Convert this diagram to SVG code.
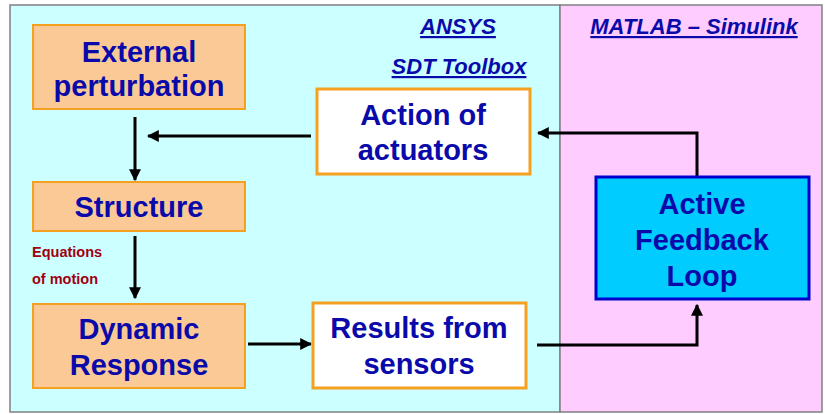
<svg xmlns="http://www.w3.org/2000/svg" width="825" height="414" viewBox="0 0 825 414">
<defs>
<marker id="ah" viewBox="0 0 10 10" refX="9" refY="5" markerWidth="4" markerHeight="4" orient="auto" markerUnits="strokeWidth">
<path d="M0,0 L10,5 L0,10 Z" fill="#000"/>
</marker>
<style>
.t{font-family:"Liberation Sans",Arial,sans-serif;font-weight:bold;font-size:29px;fill:#0A0AAA;text-anchor:middle}
.h{font-family:"Liberation Sans",Arial,sans-serif;font-weight:bold;font-style:italic;font-size:22px;fill:#0A0AAA;text-anchor:middle;text-decoration:underline}
.eq{font-family:"Liberation Sans",Arial,sans-serif;font-weight:bold;font-size:14.5px;fill:#A00010}
.peach{fill:#FBC996;stroke:#F5A020;stroke-width:2}
.white{fill:#fff;stroke:#F5A020;stroke-width:3}
.blue{fill:#00CCFF;stroke:#0000CC;stroke-width:3}
.c{fill:none;stroke:#000;stroke-width:3}
</style>
</defs>
<rect x="0" y="0" width="825" height="414" fill="#fff"/>
<rect x="10" y="5" width="550" height="407" fill="#CCFFFF" stroke="#808080" stroke-width="1.5"/>
<rect x="560" y="5" width="262" height="407" fill="#FFCCFF" stroke="#808080" stroke-width="1.5"/>
<text class="h" x="458" y="34">ANSYS</text>
<text class="h" x="459" y="74">SDT Toolbox</text>
<text class="h" x="694" y="34">MATLAB – Simulink</text>
<g id="connectors">
<line class="c" x1="135" y1="117" x2="135" y2="180" marker-end="url(#ah)"/>
<line class="c" x1="311" y1="136" x2="148" y2="136" marker-end="url(#ah)"/>
<line class="c" x1="135" y1="236" x2="135" y2="298" marker-end="url(#ah)"/>
<line class="c" x1="248" y1="344" x2="311" y2="344" marker-end="url(#ah)"/>
<polyline class="c" points="537,345 697,345 697,305" marker-end="url(#ah)"/>
<polyline class="c" points="697,177 697,133 538,133" marker-end="url(#ah)"/>
</g>
<text class="eq" x="32" y="257">Equations</text>
<text class="eq" x="32" y="284">of motion</text>
<g id="external">
<rect class="peach" x="33" y="25" width="212" height="84"/>
<text class="t" x="139" y="62">External</text>
<text class="t" x="139" y="96">perturbation</text>
</g>
<g id="structure">
<rect class="peach" x="33" y="182" width="212" height="49"/>
<text class="t" x="139" y="217">Structure</text>
</g>
<g id="dynamic">
<rect class="peach" x="33" y="304" width="212" height="84"/>
<text class="t" x="139" y="339">Dynamic</text>
<text class="t" x="139" y="375">Response</text>
</g>
<g id="actuators">
<rect class="white" x="317" y="89" width="213" height="85"/>
<text class="t" x="423" y="125">Action of</text>
<text class="t" x="423" y="160">actuators</text>
</g>
<g id="sensors">
<rect class="white" x="313" y="303" width="213" height="85"/>
<text class="t" x="419" y="338">Results from</text>
<text class="t" x="419" y="374">sensors</text>
</g>
<g id="feedback">
<rect class="blue" x="596" y="177" width="213" height="122"/>
<text class="t" x="702" y="214">Active</text>
<text class="t" x="702" y="250">Feedback</text>
<text class="t" x="702" y="286">Loop</text>
</g>
</svg>
